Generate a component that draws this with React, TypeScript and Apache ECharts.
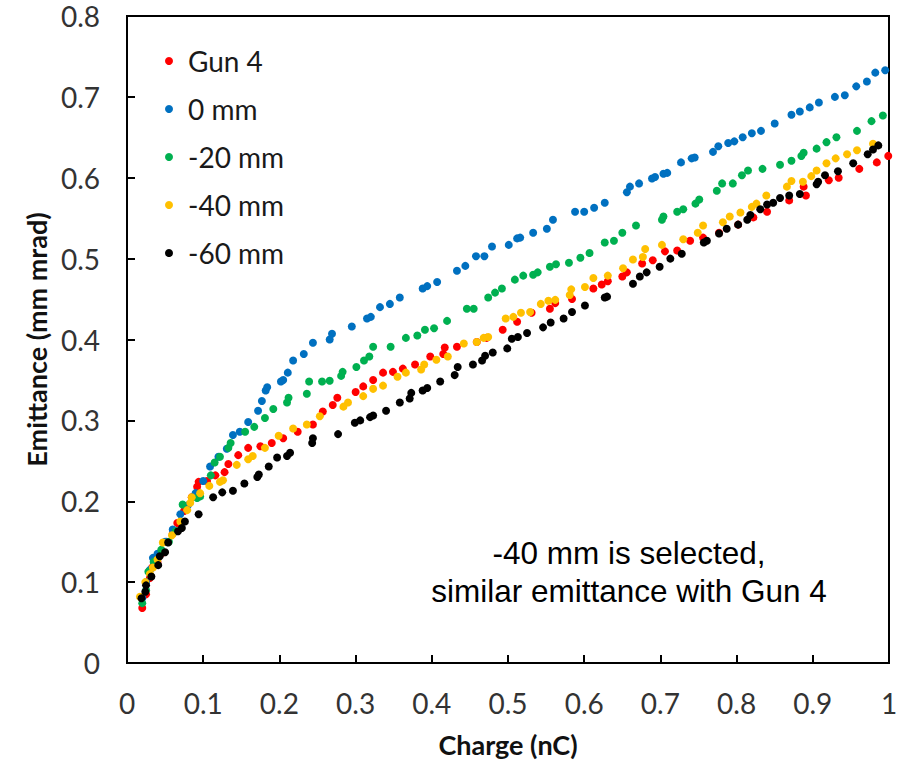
import React, { useEffect, useRef } from "react";
import * as echarts from "echarts";

const seriesNames = ["Gun 4", "0 mm", "-20 mm", "-40 mm", "-60 mm"];
const seriesColors = ["#FF0000", "#0070C0", "#00B050", "#FFC000", "#000000"];

const gun4Data = [
  [0.020,0.068],[0.025,0.085],[0.030,0.105],[0.033,0.118],[0.040,0.125],[0.046,0.136],[0.052,0.150],[0.060,0.160],[0.066,0.173],[0.075,0.188],[0.085,0.205],[0.092,0.218],[0.094,0.224],[0.105,0.225],[0.116,0.232],[0.128,0.236],[0.133,0.246],[0.146,0.257],[0.159,0.266],[0.175,0.268],[0.190,0.272],[0.205,0.278],[0.224,0.286],[0.244,0.295],[0.257,0.311],[0.270,0.319],[0.276,0.328],[0.300,0.335],[0.310,0.342],[0.323,0.350],[0.336,0.359],[0.349,0.360],[0.362,0.364],[0.378,0.369],[0.398,0.379],[0.415,0.382],[0.417,0.390],[0.433,0.391],[0.459,0.397],[0.472,0.402],[0.493,0.412],[0.512,0.422],[0.531,0.433],[0.555,0.438],[0.562,0.445],[0.584,0.450],[0.612,0.463],[0.623,0.468],[0.631,0.472],[0.650,0.478],[0.656,0.483],[0.676,0.494],[0.690,0.498],[0.706,0.509],[0.722,0.510],[0.739,0.522],[0.756,0.526],[0.777,0.532],[0.802,0.542],[0.822,0.551],[0.840,0.558],[0.869,0.572],[0.888,0.589],[0.891,0.578],[0.921,0.597],[0.934,0.600],[0.961,0.611],[0.984,0.619],[0.999,0.627]
];

const mm0Data = [
  [0.020,0.080],[0.025,0.100],[0.030,0.115],[0.034,0.130],[0.040,0.135],[0.050,0.150],[0.060,0.165],[0.070,0.184],[0.080,0.195],[0.090,0.210],[0.100,0.225],[0.109,0.243],[0.120,0.255],[0.131,0.265],[0.139,0.282],[0.148,0.286],[0.159,0.298],[0.172,0.312],[0.177,0.324],[0.182,0.337],[0.184,0.341],[0.202,0.348],[0.205,0.350],[0.211,0.359],[0.218,0.374],[0.232,0.382],[0.244,0.396],[0.266,0.400],[0.269,0.407],[0.295,0.416],[0.315,0.426],[0.320,0.428],[0.332,0.440],[0.345,0.444],[0.358,0.452],[0.388,0.463],[0.394,0.466],[0.407,0.471],[0.433,0.485],[0.444,0.491],[0.458,0.503],[0.469,0.503],[0.479,0.515],[0.501,0.517],[0.512,0.525],[0.516,0.526],[0.533,0.532],[0.551,0.537],[0.559,0.548],[0.588,0.558],[0.600,0.558],[0.613,0.563],[0.627,0.569],[0.656,0.582],[0.660,0.589],[0.672,0.593],[0.689,0.599],[0.693,0.601],[0.704,0.605],[0.709,0.606],[0.727,0.619],[0.741,0.624],[0.745,0.625],[0.769,0.632],[0.776,0.639],[0.789,0.643],[0.797,0.645],[0.808,0.650],[0.820,0.655],[0.832,0.658],[0.850,0.667],[0.872,0.678],[0.883,0.682],[0.896,0.687],[0.908,0.693],[0.929,0.700],[0.942,0.702],[0.957,0.713],[0.971,0.719],[0.982,0.730],[0.995,0.733]
];

const mm20Data = [
  [0.020,0.074],[0.025,0.090],[0.028,0.113],[0.035,0.125],[0.045,0.140],[0.055,0.150],[0.064,0.163],[0.073,0.196],[0.092,0.204],[0.096,0.206],[0.110,0.232],[0.115,0.248],[0.122,0.255],[0.133,0.266],[0.136,0.272],[0.155,0.286],[0.167,0.292],[0.181,0.303],[0.192,0.314],[0.210,0.322],[0.212,0.328],[0.236,0.333],[0.239,0.348],[0.256,0.348],[0.266,0.349],[0.281,0.355],[0.283,0.360],[0.301,0.366],[0.311,0.374],[0.318,0.379],[0.323,0.391],[0.346,0.391],[0.366,0.402],[0.381,0.405],[0.391,0.412],[0.403,0.414],[0.420,0.423],[0.446,0.438],[0.455,0.438],[0.474,0.452],[0.483,0.458],[0.492,0.463],[0.509,0.474],[0.520,0.479],[0.533,0.480],[0.539,0.483],[0.555,0.490],[0.563,0.493],[0.580,0.495],[0.595,0.501],[0.607,0.507],[0.627,0.520],[0.639,0.522],[0.650,0.532],[0.668,0.541],[0.702,0.548],[0.704,0.552],[0.722,0.558],[0.730,0.561],[0.746,0.568],[0.751,0.573],[0.774,0.584],[0.781,0.593],[0.795,0.593],[0.807,0.603],[0.815,0.609],[0.834,0.611],[0.857,0.616],[0.872,0.621],[0.885,0.627],[0.888,0.631],[0.905,0.636],[0.918,0.644],[0.931,0.650],[0.958,0.658],[0.977,0.670],[0.992,0.677]
];

const mm40Data = [
  [0.017,0.082],[0.024,0.100],[0.030,0.110],[0.034,0.118],[0.040,0.128],[0.047,0.149],[0.059,0.158],[0.070,0.175],[0.079,0.189],[0.083,0.198],[0.085,0.205],[0.096,0.210],[0.108,0.219],[0.122,0.224],[0.126,0.226],[0.144,0.245],[0.159,0.252],[0.165,0.256],[0.181,0.266],[0.199,0.281],[0.218,0.290],[0.236,0.295],[0.253,0.305],[0.284,0.317],[0.290,0.322],[0.310,0.330],[0.323,0.339],[0.336,0.343],[0.355,0.354],[0.366,0.359],[0.386,0.363],[0.390,0.369],[0.406,0.375],[0.421,0.379],[0.442,0.395],[0.459,0.397],[0.468,0.402],[0.474,0.403],[0.497,0.426],[0.507,0.428],[0.517,0.433],[0.529,0.434],[0.543,0.444],[0.553,0.448],[0.562,0.449],[0.581,0.455],[0.583,0.462],[0.601,0.465],[0.612,0.476],[0.631,0.479],[0.651,0.488],[0.664,0.499],[0.677,0.502],[0.680,0.512],[0.702,0.517],[0.730,0.524],[0.749,0.532],[0.756,0.541],[0.782,0.545],[0.791,0.552],[0.805,0.557],[0.820,0.564],[0.826,0.568],[0.839,0.578],[0.866,0.589],[0.872,0.596],[0.887,0.595],[0.898,0.602],[0.905,0.609],[0.918,0.618],[0.930,0.624],[0.945,0.629],[0.958,0.634],[0.979,0.642]
];

const mm60Data = [
  [0.019,0.080],[0.024,0.088],[0.025,0.096],[0.032,0.107],[0.041,0.121],[0.043,0.132],[0.050,0.137],[0.054,0.149],[0.067,0.163],[0.072,0.167],[0.076,0.175],[0.094,0.184],[0.113,0.205],[0.125,0.211],[0.139,0.213],[0.154,0.222],[0.171,0.230],[0.173,0.233],[0.186,0.243],[0.197,0.254],[0.210,0.256],[0.214,0.260],[0.243,0.272],[0.244,0.278],[0.277,0.283],[0.299,0.297],[0.306,0.300],[0.319,0.304],[0.323,0.306],[0.340,0.312],[0.358,0.322],[0.371,0.327],[0.373,0.334],[0.388,0.337],[0.394,0.340],[0.411,0.348],[0.430,0.356],[0.434,0.366],[0.454,0.369],[0.466,0.374],[0.470,0.380],[0.480,0.384],[0.499,0.389],[0.505,0.401],[0.513,0.403],[0.525,0.408],[0.546,0.415],[0.556,0.421],[0.573,0.426],[0.584,0.434],[0.601,0.442],[0.627,0.452],[0.630,0.453],[0.664,0.469],[0.673,0.478],[0.682,0.483],[0.699,0.490],[0.713,0.500],[0.728,0.506],[0.757,0.520],[0.761,0.522],[0.777,0.531],[0.787,0.537],[0.802,0.542],[0.814,0.548],[0.818,0.554],[0.831,0.561],[0.840,0.567],[0.848,0.569],[0.857,0.575],[0.869,0.578],[0.883,0.580],[0.905,0.592],[0.907,0.595],[0.916,0.603],[0.933,0.608],[0.953,0.618],[0.972,0.629],[0.979,0.635],[0.986,0.640]
];

const allData = [gun4Data, mm0Data, mm20Data, mm40Data, mm60Data];

const xAxisTitle = "Charge (nC)";
const yAxisTitle = "Emittance (mm mrad)";
const noteLines = ["-40 mm is selected,", "similar emittance with Gun 4"];

const FONT = "Lato, 'Open Sans', sans-serif";

export default function App() {
  const ref = useRef<HTMLDivElement>(null);
  useEffect(() => {
    if (!ref.current) return;
    const chart = echarts.init(ref.current, undefined, { renderer: "svg" });
    const axisCommon = {
      type: "value" as const,
      axisLine: { show: false },
      axisTick: { show: true, inside: true, length: 8, lineStyle: { color: "#000", width: 2 } },
      splitLine: { show: false },
      nameLocation: "middle" as const,
      nameTextStyle: { fontFamily: FONT, fontWeight: "bold", fontSize: 27, color: "#111" },
    };
    chart.setOption({
      animation: false,
      backgroundColor: "#fff",
      grid: { left: 127, right: 28, top: 16, bottom: 101, show: true, borderColor: "#000", borderWidth: 2 },
      xAxis: {
        ...axisCommon,
        min: 0,
        max: 1,
        interval: 0.1,
        name: xAxisTitle,
        nameGap: 68,
        axisLabel: { fontFamily: FONT, fontSize: 28, color: "#333", margin: 26 },
      },
      yAxis: {
        ...axisCommon,
        min: 0,
        max: 0.8,
        interval: 0.1,
        name: yAxisTitle,
        nameGap: 74,
        axisLabel: { fontFamily: FONT, fontSize: 28, color: "#333", margin: 27 },
      },
      legend: {
        orient: "vertical",
        left: 165,
        top: 47,
        padding: 0,
        icon: "circle",
        itemWidth: 28,
        itemHeight: 8,
        itemGap: 20,
        textStyle: { fontFamily: FONT, fontSize: 28, lineHeight: 28, color: "#1a1a1a" },
        data: seriesNames,
      },
      graphic: [
        {
          type: "text",
          x: 629,
          y: 572,
          style: {
            text: noteLines.join("\n"),
            fontFamily: "'Liberation Sans', Arial, sans-serif",
            fontSize: 31.5,
            lineHeight: 38,
            fill: "#000",
            align: "center",
            verticalAlign: "middle",
          },
        },
      ],
      series: seriesNames.map((name, i) => ({
        name,
        type: "scatter",
        data: allData[i],
        symbol: "circle",
        symbolSize: 8,
        itemStyle: { color: seriesColors[i], opacity: 1 },
        z: 2 + i,
      })),
    });
    return () => chart.dispose();
  }, []);
  return (
    <div
      ref={ref}
      style={{ position: "fixed", left: 0, top: 0, width: 917, height: 764, background: "#fff" }}
    />
  );
}
